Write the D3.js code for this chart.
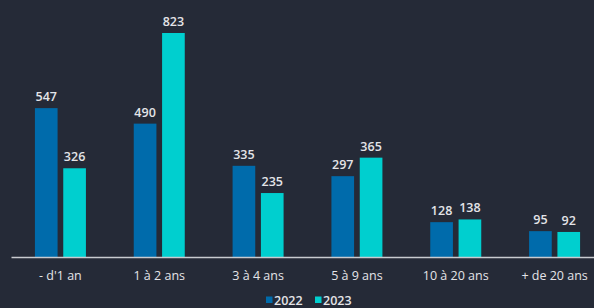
<!DOCTYPE html>
<html lang="fr">
<head>
    <meta charset="UTF-8">
    <title>Anciennete</title>
    <style>
        body {
            margin: 0;
            padding: 0;
            background: #252a37;
        }

        svg {
            display: block;
        }

        .value-label {
            font-family: "Open Sans", sans-serif;
            font-size: 12.5px;
            font-weight: 600;
            fill: #e4e4e8;
            text-anchor: middle;
        }

        .cat-label {
            font-family: "Open Sans", sans-serif;
            font-size: 12.5px;
            fill: #e4e4e8;
            text-anchor: middle;
        }

        .legend-text {
            font-family: "Open Sans", sans-serif;
            font-size: 12.5px;
            font-weight: 600;
            fill: #e4e4e8;
        }
    </style>
</head>
<body>
    <svg></svg>

    <script src="https://d3js.org/d3.v7.min.js"></script>
    <script>
        const categories = ["- d'1 an", "1 à 2 ans", "3 à 4 ans", "5 à 9 ans", "10 à 20 ans", "+ de 20 ans"];
        const seriesNames = ["2022", "2023"];
        const values2022 = [547, 490, 335, 297, 128, 95];
        const values2023 = [326, 823, 235, 365, 138, 92];

        const colors = ["#006bab", "#00cfcf"];

        const width = 594;
        const height = 308;

        const svg = d3.select("svg")
            .attr("width", width)
            .attr("height", height);

        // baseline sits at y=257, the 823 bar reaches y=33
        const baseY = 257;
        const y = d3.scaleLinear()
            .domain([0, 823])
            .range([baseY, 33]);

        const x0 = d3.scaleBand()
            .domain(categories)
            .range([11, 604])
            .paddingInner(0.484)
            .paddingOuter(0.242);

        const x1 = d3.scaleBand()
            .domain(seriesNames)
            .range([0, x0.bandwidth()])
            .paddingInner(0.2);

        const rows = categories.map((c, i) => ({
            cat: c,
            vals: [
                { key: "2022", v: values2022[i] },
                { key: "2023", v: values2023[i] }
            ]
        }));

        const groups = svg.selectAll("g.group")
            .data(rows)
            .enter()
            .append("g")
            .attr("class", "group")
            .attr("transform", d => `translate(${x0(d.cat)},0)`);

        groups.selectAll("rect")
            .data(d => d.vals)
            .enter()
            .append("rect")
            .attr("x", d => x1(d.key))
            .attr("y", d => y(d.v))
            .attr("width", x1.bandwidth())
            .attr("height", d => baseY - y(d.v))
            .attr("fill", (d, i) => colors[i]);

        groups.selectAll("text")
            .data(d => d.vals)
            .enter()
            .append("text")
            .attr("class", "value-label")
            .attr("x", d => x1(d.key) + x1.bandwidth() / 2)
            .attr("y", d => y(d.v) - 7)
            .text(d => d.v);

        // x axis: plain line + labels
        const xAxis = svg.append("g")
            .attr("transform", `translate(0,${baseY})`)
            .call(d3.axisBottom(x0).tickSize(0).tickPadding(14));

        xAxis.select(".domain")
            .attr("stroke", "#c9cbd0")
            .attr("stroke-width", 1.5);

        xAxis.selectAll("text")
            .attr("class", "cat-label")
            .attr("font-size", null)
            .attr("font-family", null);
        xAxis.attr("font-size", null).attr("font-family", null);

        // legend
        const legend = svg.append("g")
            .attr("transform", "translate(266,296.5)");

        const legendX = [0, 49];
        seriesNames.forEach((s, i) => {
            legend.append("rect")
                .attr("x", legendX[i])
                .attr("y", 0)
                .attr("width", 6.5)
                .attr("height", 6.5)
                .attr("fill", colors[i]);
            legend.append("text")
                .attr("class", "legend-text")
                .attr("x", legendX[i] + 8)
                .attr("y", 8.5)
                .text(s);
        });
    </script>
</body>
</html>
